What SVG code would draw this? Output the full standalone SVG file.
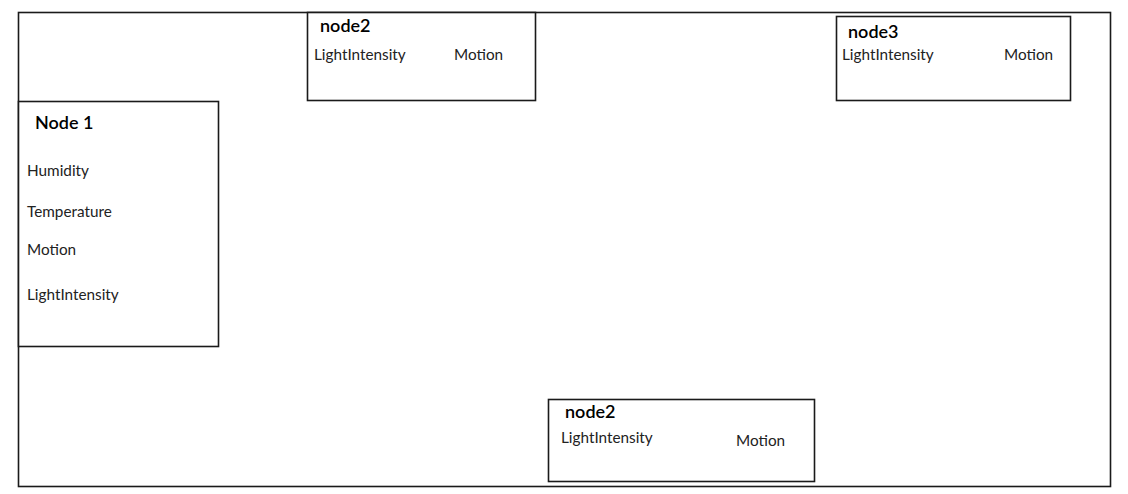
<svg xmlns="http://www.w3.org/2000/svg" width="1128" height="494" viewBox="0 0 1128 494">
<style>
.box{fill:#fff;stroke:#1a1a1a;stroke-width:1.6}
.frame{fill:#fff;stroke:#1a1a1a;stroke-width:1.6}
.t{font-family:Lato,"Liberation Sans",sans-serif;font-size:18px;font-weight:600;fill:#000}
.f{font-family:Lato,"Liberation Sans",sans-serif;font-size:15.3px;fill:#222}
</style>
<rect width="1128" height="494" fill="#fff"/>
<rect class="frame" x="18.5" y="12.5" width="1092" height="474"/>
<g id="connectors"></g>
<g id="node1">
<rect class="box" x="18.5" y="101.5" width="200" height="245"/>
<text class="t" x="35" y="129">Node 1</text>
<text class="f" x="27" y="176">Humidity</text>
<text class="f" x="27" y="217">Temperature</text>
<text class="f" x="27" y="255">Motion</text>
<text class="f" x="27" y="300">LightIntensity</text>
</g>
<g id="node2-top">
<rect class="box" x="307.5" y="12.5" width="228" height="88"/>
<text class="t" x="320" y="32">node2</text>
<text class="f" x="314" y="60">LightIntensity</text>
<text class="f" x="454" y="60">Motion</text>
</g>
<g id="node3">
<rect class="box" x="836.5" y="16.5" width="234" height="84"/>
<text class="t" x="848" y="38">node3</text>
<text class="f" x="842" y="60">LightIntensity</text>
<text class="f" x="1004" y="60">Motion</text>
</g>
<g id="node2-bottom">
<rect class="box" x="548.5" y="399.5" width="266" height="82"/>
<text class="t" x="565" y="418">node2</text>
<text class="f" x="561" y="443">LightIntensity</text>
<text class="f" x="736" y="446">Motion</text>
</g>
</svg>
